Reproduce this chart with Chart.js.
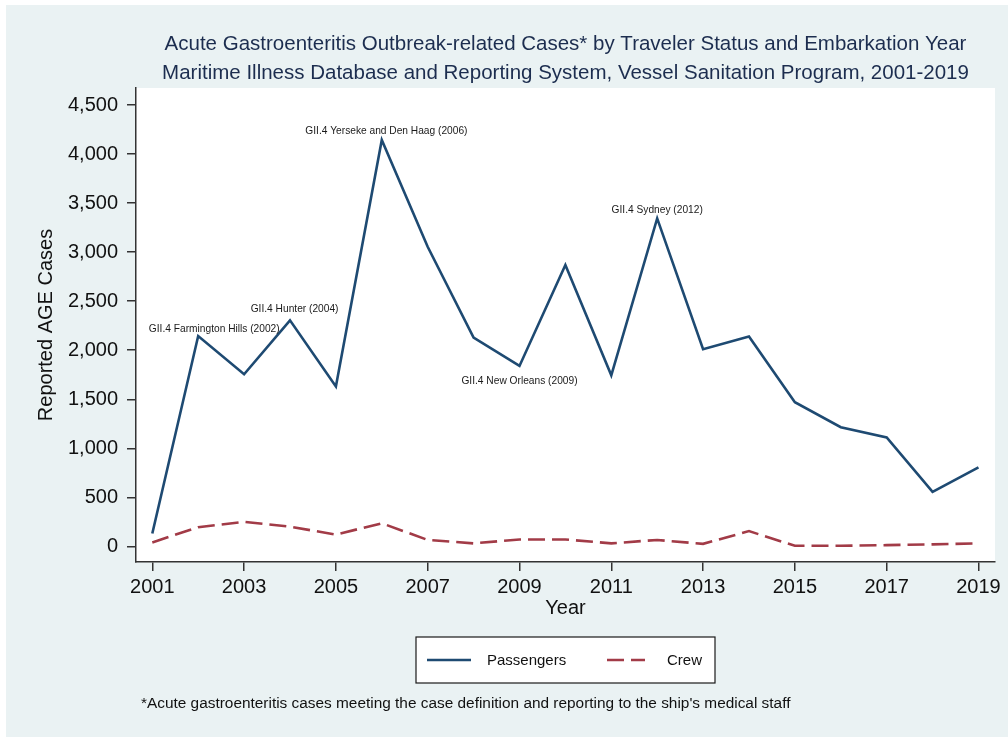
<!DOCTYPE html>
<html>
<head>
<meta charset="utf-8">
<title>AGE outbreak-related cases by traveler status</title>
<script src="https://cdn.jsdelivr.net/npm/chart.js@4.4.1/dist/chart.umd.min.js"></script>
<style>
	html, body { margin: 0; padding: 0; background: #fff; }
	canvas { display: block; }
</style>
</head>
<body>
<canvas id="age-chart" width="1008" height="738"></canvas>
<script>
'use strict';

// embarkation years and reported AGE cases
var years = [2001, 2002, 2003, 2004, 2005, 2006, 2007, 2008, 2009, 2010,
	2011, 2012, 2013, 2014, 2015, 2016, 2017, 2018, 2019];
var passengerCases = [130, 2145, 1755, 2305, 1630, 4145, 3055, 2130, 1840, 2870,
	1745, 3345, 2010, 2140, 1470, 1215, 1110, 555, 805];
var crewCases = [40, 195, 250, 200, 120, 235, 65, 30, 70, 70,
	30, 65, 25, 155, 5, 5, 12, 20, 30];

var yearTicks = [2001, 2003, 2005, 2007, 2009, 2011, 2013, 2015, 2017, 2019];
var caseTicks = [0, 500, 1000, 1500, 2000, 2500, 3000, 3500, 4000, 4500];

// norovirus strain notes, anchored at (year, cases)
var strainLabels = ['GII.4 Farmington Hills (2002)', 'GII.4 Hunter (2004)',
	'GII.4 Yerseke and Den Haag (2006)', 'GII.4 New Orleans (2009)', 'GII.4 Sydney (2012)'];
var strainYears = [2002.35, 2004.1, 2006.1, 2009, 2012];
var strainCases = [2215, 2420, 4230, 1680, 3430];

var titleLines = [
	'Acute Gastroenteritis Outbreak-related Cases* by Traveler Status and Embarkation Year',
	'Maritime Illness Database and Reporting System, Vessel Sanitation Program, 2001-2019'
];
var footnote = '*Acute gastroenteritis cases meeting the case definition and reporting to the ship\'s medical staff';

var FONT = '"Liberation Sans", Arial, Helvetica, sans-serif';
var AXIS_COLOR = '#333333';

Chart.defaults.font.family = FONT;
Chart.defaults.color = '#111111';

function points(values){
	return years.map(function(year, i){ return { x : year, y : values[i] }; });
}

// background panel, plot area, titles, strain notes, legend and footnote
var framePlugin = {
	id : 'frame',
	beforeDraw : function(chart){
		var ctx = chart.ctx, area = chart.chartArea;
		ctx.save();
		ctx.fillStyle = '#ffffff';
		ctx.fillRect(0, 0, chart.width, chart.height);
		ctx.fillStyle = '#eaf2f3';
		ctx.fillRect(6, 5, chart.width - 6, chart.height - 6);
		ctx.fillStyle = '#ffffff';
		ctx.fillRect(area.left, area.top, area.right - area.left, area.bottom - area.top);
		ctx.restore();
	},
	afterDraw : function(chart){
		var ctx = chart.ctx,
			area = chart.chartArea,
			xScale = chart.scales.x,
			yScale = chart.scales.y,
			centre = (area.left + area.right) / 2,
			i = 0;

		ctx.save();

		//two line title over the plot area
		ctx.fillStyle = '#1c2d4f';
		ctx.font = '20.5px ' + FONT;
		ctx.textAlign = 'center';
		ctx.textBaseline = 'middle';
		ctx.fillText(titleLines[0], centre, 44);
		ctx.fillText(titleLines[1], centre, 73);

		//strain notes
		ctx.fillStyle = '#1a1a1a';
		ctx.font = '10.2px ' + FONT;
		for(i = 0; i < strainLabels.length; i++){
			ctx.fillText(strainLabels[i],
				xScale.getPixelForValue(strainYears[i]),
				yScale.getPixelForValue(strainCases[i]));
		}

		//legend box
		var box = { left : 416, top : 637, width : 299, height : 46 },
			rowY = 660,
			items = [
				{ line : 427, text : 487 },
				{ line : 607, text : 667 }
			];
		ctx.fillStyle = '#ffffff';
		ctx.fillRect(box.left, box.top, box.width, box.height);
		ctx.strokeStyle = '#1a1a1a';
		ctx.lineWidth = 1.2;
		ctx.strokeRect(box.left, box.top, box.width, box.height);

		ctx.font = '15px ' + FONT;
		ctx.textAlign = 'left';
		chart.data.datasets.forEach(function(ds, k){
			ctx.beginPath();
			ctx.strokeStyle = ds.borderColor;
			ctx.lineWidth = ds.borderWidth;
			ctx.setLineDash(ds.borderDash || []);
			ctx.moveTo(items[k].line, rowY);
			ctx.lineTo(items[k].line + (k === 0 ? 44 : 38), rowY);
			ctx.stroke();
			ctx.setLineDash([]);
			ctx.fillStyle = '#111111';
			ctx.fillText(ds.label, items[k].text, rowY + 1);
		});

		//footnote
		ctx.font = '15.4px ' + FONT;
		ctx.fillStyle = '#111111';
		ctx.fillText(footnote, 141, 704);

		ctx.restore();
	}
};

new Chart(document.getElementById('age-chart').getContext('2d'), {
	type : 'line',
	data : {
		datasets : [{
			label : 'Passengers',
			data : points(passengerCases),
			borderColor : '#1e4a72',
			borderWidth : 2.6,
			pointRadius : 0,
			tension : 0,
			fill : false
		}, {
			label : 'Crew',
			data : points(crewCases),
			borderColor : '#a23b47',
			borderWidth : 2.6,
			borderDash : [17, 7],
			pointRadius : 0,
			tension : 0,
			fill : false
		}]
	},
	options : {
		responsive : false,
		devicePixelRatio : 1,
		animation : false,
		layout : { padding : { left : 6, top : 88, right : 13, bottom : 118 } },
		plugins : {
			legend : { display : false },
			title : { display : false },
			tooltip : { enabled : false }
		},
		scales : {
			x : {
				type : 'linear',
				min : 2000.645,
				max : 2019.36,
				afterBuildTicks : function(scale){
					scale.ticks = yearTicks.map(function(v){ return { value : v }; });
				},
				afterFit : function(scale){ scale.height = 58; },
				ticks : {
					font : { size : 20 },
					color : '#111111',
					padding : 4,
					maxRotation : 0,
					autoSkip : false,
					callback : function(value){ return String(value); }
				},
				grid : {
					drawOnChartArea : false,
					drawTicks : true,
					tickLength : 9,
					color : AXIS_COLOR,
					lineWidth : 1.5
				},
				border : { display : true, color : AXIS_COLOR, width : 1.5 },
				title : {
					display : true,
					text : 'Year',
					font : { size : 20 },
					color : '#111111',
					padding : { top : 0, bottom : 0 }
				}
			},
			y : {
				type : 'linear',
				min : -160,
				max : 4675,
				afterBuildTicks : function(scale){
					scale.ticks = caseTicks.map(function(v){ return { value : v }; });
				},
				afterFit : function(scale){ scale.width = 130; },
				ticks : {
					font : { size : 20 },
					color : '#111111',
					padding : 9,
					callback : function(value){ return value.toLocaleString('en-US'); }
				},
				grid : {
					drawOnChartArea : false,
					drawTicks : true,
					tickLength : 9,
					color : AXIS_COLOR,
					lineWidth : 1.5
				},
				border : { display : true, color : AXIS_COLOR, width : 1.5 },
				title : {
					display : true,
					text : 'Reported AGE Cases',
					font : { size : 20 },
					color : '#111111',
					padding : { top : 28, bottom : 0 }
				}
			}
		}
	},
	plugins : [framePlugin]
});
</script>
</body>
</html>
